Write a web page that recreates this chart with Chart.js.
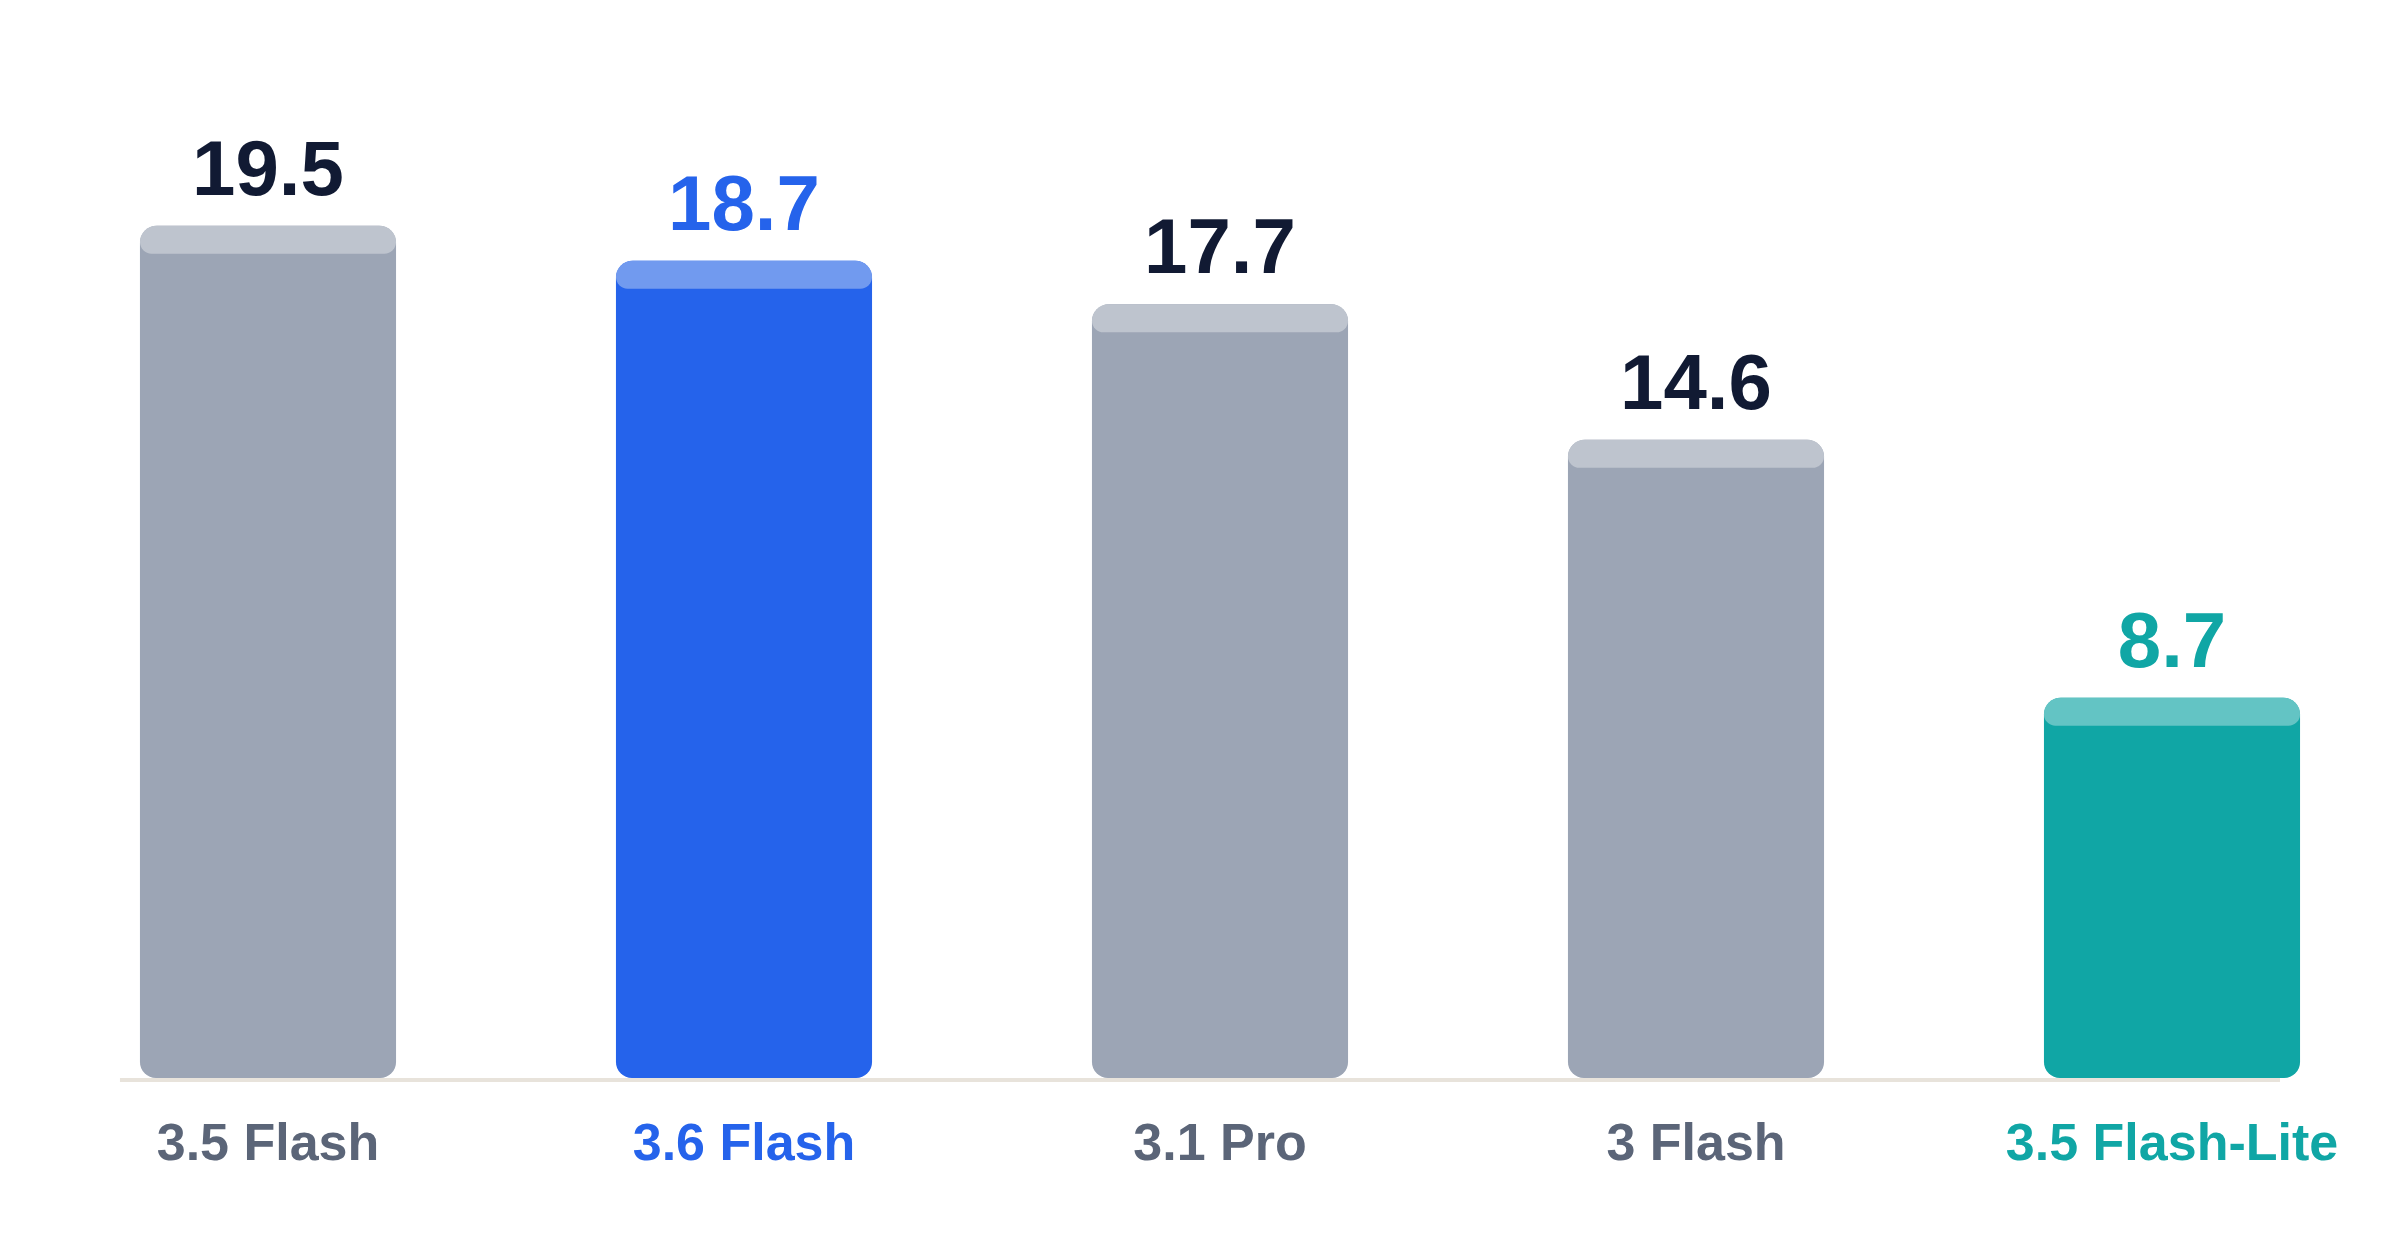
<!DOCTYPE html>
<html>
<head>
<meta charset="utf-8">
<script src="https://cdn.jsdelivr.net/npm/chart.js@4.4.1/dist/chart.umd.min.js"></script>
<style>
  html, body { margin: 0; padding: 0; background: #ffffff; overflow: hidden; }
  #wrap { width: 2410px; height: 1260px; position: relative; }
</style>
</head>
<body>
<div id="wrap"><canvas id="chart"></canvas></div>
<script>
// data
const models = ['3.5 Flash', '3.6 Flash', '3.1 Pro', '3 Flash', '3.5 Flash-Lite'];
const scores = [19.5, 18.7, 17.7, 14.6, 8.7];

// colours per bar
const barColors = ['#9ca5b5', '#2563eb', '#9ca5b5', '#9ca5b5', '#10a6a5'];
const capColors = ['#bec4ce', '#719aef', '#bec4ce', '#bec4ce', '#63c4c4'];
const valueColors = ['#111a33', '#2563eb', '#111a33', '#111a33', '#10a6a5'];
const tickColors = ['#5b6578', '#2563eb', '#5b6578', '#5b6578', '#10a6a5'];

const FONT = "'Liberation Sans', Arial, Helvetica, sans-serif";

// baseline under the bars, drawn before the bars
const baseLine = {
  id: 'baseLine',
  beforeDatasetsDraw(chart) {
    const { ctx } = chart;
    const bars = chart.getDatasetMeta(0).data;
    const y0 = chart.scales.y.getPixelForValue(0);
    const first = bars[0];
    const last = bars[bars.length - 1];
    const x1 = first.x - first.width / 2 - 20;
    const x2 = last.x + 108;
    ctx.save();
    ctx.fillStyle = '#e8e3db';
    ctx.fillRect(x1, y0, x2 - x1, 4);
    ctx.restore();
  }
};

// lighter cap on top of each bar + value label
const capsAndValues = {
  id: 'capsAndValues',
  afterDatasetsDraw(chart) {
    const { ctx } = chart;
    const meta = chart.getDatasetMeta(0);
    ctx.save();
    meta.data.forEach((bar, i) => {
      const w = bar.width;
      ctx.fillStyle = capColors[i];
      ctx.beginPath();
      ctx.roundRect(bar.x - w / 2, bar.y, w, 28, [17, 17, 12, 12]);
      ctx.fill();

      ctx.fillStyle = valueColors[i];
      ctx.font = 'bold 78px ' + FONT;
      ctx.textAlign = 'center';
      ctx.textBaseline = 'alphabetic';
      ctx.fillText(scores[i].toFixed(1), bar.x, bar.y - 31);
    });
    ctx.restore();
  }
};

new Chart(document.getElementById('chart'), {
  type: 'bar',
  data: {
    labels: models,
    datasets: [{
      data: scores,
      backgroundColor: barColors,
      borderWidth: 0,
      borderSkipped: false,
      borderRadius: { topLeft: 17, topRight: 17, bottomLeft: 16, bottomRight: 16 },
      categoryPercentage: 1,
      barPercentage: 0.538
    }]
  },
  options: {
    responsive: true,
    maintainAspectRatio: false,
    devicePixelRatio: 1,
    animation: false,
    layout: { padding: { left: 30, right: 0, top: 29, bottom: 0 } },
    plugins: {
      legend: { display: false },
      tooltip: { enabled: false }
    },
    scales: {
      x: {
        grid: { display: false, drawTicks: false },
        border: { display: false },
        ticks: {
          padding: 36,
          color: (c) => tickColors[c.index],
          font: { family: FONT, size: 52, weight: 'bold' }
        },
        afterFit(scale) { scale.height = 182; }
      },
      y: {
        display: false,
        min: 0,
        max: 24
      }
    }
  },
  plugins: [baseLine, capsAndValues]
});
</script>
</body>
</html>
